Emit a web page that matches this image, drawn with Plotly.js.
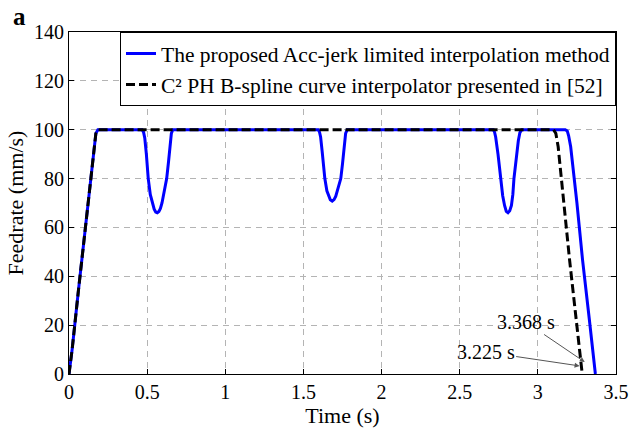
<!DOCTYPE html>
<html>
<head>
<meta charset="utf-8">
<script src="https://cdn.plot.ly/plotly-3.0.1.min.js"></script>
<style>html,body{margin:0;padding:0;background:#fff;}#chart{width:634px;height:432px;}</style>
</head>
<body>
<div id="chart"></div>
<script>
// Proposed Acc-jerk limited interpolation method (blue)
const timeProposed = [0, 0.02, 0.06, 0.10, 0.14, 0.16, 0.172, 0.185,
  0.468, 0.477, 0.485, 0.495, 0.507, 0.52, 0.535, 0.545, 0.555, 0.565, 0.575, 0.585, 0.595, 0.61, 0.625, 0.637, 0.648, 0.655, 0.664,
  1.595, 1.603, 1.61, 1.62, 1.637, 1.65, 1.662, 1.672, 1.684, 1.696, 1.707, 1.72, 1.739, 1.75, 1.762, 1.77, 1.78,
  2.715, 2.723, 2.73, 2.745, 2.762, 2.775, 2.787, 2.798, 2.809, 2.82, 2.831, 2.84, 2.847, 2.86, 2.875, 2.885, 2.897,
  3.175, 3.188, 3.197, 3.21, 3.25, 3.286, 3.33, 3.368];
const feedProposed = [0, 10, 34, 57, 82, 93, 98.5, 100,
  100, 99, 96.5, 90, 80, 73.5, 69.5, 67.5, 66.3, 66, 66.5, 67.8, 70, 75, 80, 87, 94.5, 98.5, 100,
  100, 99, 97, 91, 80, 75, 72.5, 71.3, 70.8, 71.4, 72.8, 75.5, 80, 86, 94, 98.5, 100,
  100, 99, 97, 90, 80, 73, 69, 66.6, 66, 66.8, 69, 73.5, 80, 88, 95.5, 98.8, 100,
  100, 99.5, 97.5, 93, 70, 46.7, 22, 0];

// C2 PH B-spline curve interpolator presented in [52] (black dashed)
const timeRef = [0, 0.02, 0.06, 0.10, 0.14, 0.16, 0.172, 0.185, 3.1, 3.115, 3.13, 3.203, 3.284];
const feedRef = [0, 10, 34, 57, 82, 93, 98.5, 100, 100, 98.5, 93, 46.7, 0];

const nameProposed = 'The proposed Acc-jerk limited interpolation method';
const nameRef = 'C² PH B-spline curve interpolator presented in [52]';

const xTicks = [0, 0.5, 1, 1.5, 2, 2.5, 3, 3.5];
const xTickText = ['0', '0.5', '1', '1.5', '2', '2.5', '3', '3.5'];
const yTicks = [0, 20, 40, 60, 80, 100, 120, 140];

const serif = 'Liberation Serif, Times New Roman, serif';

const traces = [
  {x: timeProposed, y: feedProposed, name: nameProposed, mode: 'lines',
   line: {color: '#0000ff', width: 3}},
  {x: timeRef, y: feedRef, name: nameRef, mode: 'lines',
   line: {color: '#000000', width: 3, dash: '9px,4px'}}
];

const axisCommon = {
  showline: true, linecolor: '#000', linewidth: 1, mirror: 'ticks',
  ticks: 'inside', ticklen: 5, tickcolor: '#000', tickwidth: 1,
  showgrid: true, gridcolor: '#b4b4b4', gridwidth: 1, griddash: '6px,5px',
  zeroline: false, tickfont: {family: serif, size: 20, color: '#000'}
};

const layout = {
  width: 634, height: 432,
  margin: {l: 69, r: 18, t: 32, b: 58},
  paper_bgcolor: '#fff', plot_bgcolor: '#fff',
  showlegend: true,
  xaxis: Object.assign({}, axisCommon, {
    range: [0, 3.5], tickvals: xTicks, ticktext: xTickText,
    title: {text: 'Time (s)', font: {family: serif, size: 22, color: '#000'}, standoff: 5}
  }),
  yaxis: Object.assign({}, axisCommon, {
    range: [0, 140], tickvals: yTicks,
    title: {text: 'Feedrate (mm/s)', font: {family: serif, size: 22, color: '#000'}, standoff: 4}
  }),
  legend: {
    x: 1, xanchor: 'right', y: 1, yanchor: 'top',
    bgcolor: '#fff', bordercolor: '#000', borderwidth: 1,
    font: {family: serif, size: 21.5, color: '#000'},
    itemwidth: 30, tracegroupgap: 0
  },
  annotations: [
    {text: '<b>a</b>', xref: 'paper', yref: 'paper', x: -0.106, y: 1.0, xanchor: 'left', yanchor: 'bottom',
     showarrow: false, font: {family: serif, size: 25, color: '#000'}},
    {text: '3.368 s', x: 3.30, y: 4.9, ax: 2.922, ay: 21.3, axref: 'x', ayref: 'y',
     showarrow: true, arrowhead: 2, arrowsize: 1, arrowwidth: 1, arrowcolor: '#555',
     font: {family: serif, size: 20, color: '#000'}},
    {text: '3.225 s', x: 3.267, y: 3.3, ax: 2.666, ay: 9, axref: 'x', ayref: 'y',
     showarrow: true, arrowhead: 2, arrowsize: 1, arrowwidth: 1, arrowcolor: '#555',
     font: {family: serif, size: 20, color: '#000'}}
  ]
};

Plotly.newPlot('chart', traces, layout, {displayModeBar: false, staticPlot: true});
</script>
</body>
</html>
